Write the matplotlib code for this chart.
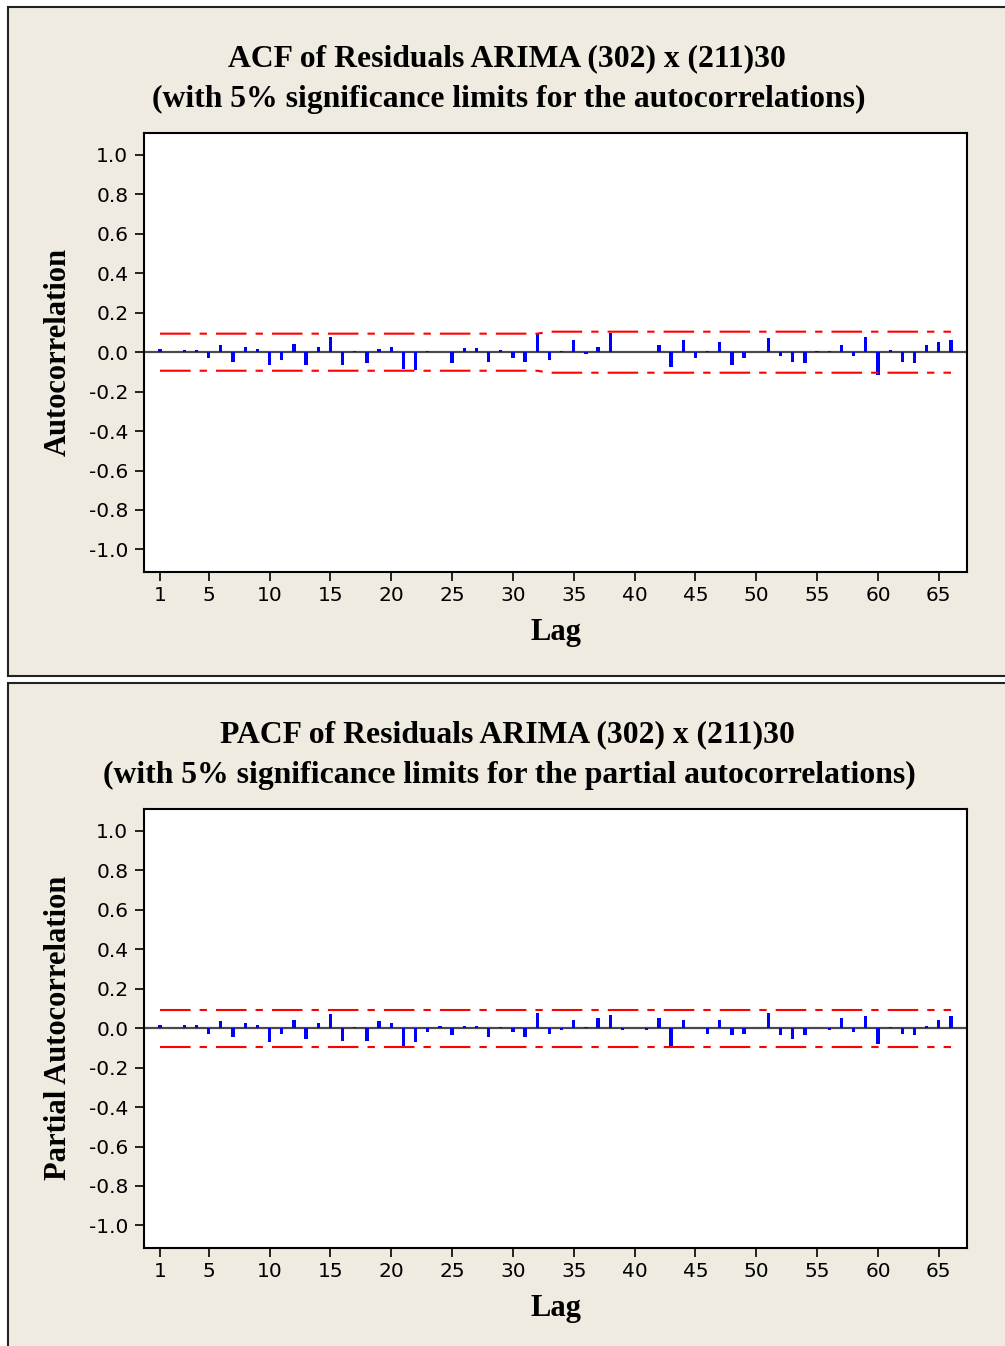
import numpy as np
import matplotlib
matplotlib.use("Agg")
import matplotlib.pyplot as plt
from matplotlib.patches import Rectangle

plt.rcParams['lines.scale_dashes'] = False

lags = np.arange(1, 67)

# residual autocorrelations
acf_vals = [0.015, 0.0, 0.013, 0.013, -0.029, 0.034, -0.048, 0.024, 0.015, -0.065,
            -0.039, 0.043, -0.066, 0.024, 0.078, -0.065, 0.008, -0.056, 0.015, 0.024,
            -0.087, -0.09, 0.005, 0.0, -0.056, 0.022, 0.022, -0.048, 0.013, -0.031,
            -0.048, 0.095, -0.039, 0.007, 0.06, -0.01, 0.024, 0.095, 0.0, 0.0,
            0.0, 0.034, -0.075, 0.06, -0.031, 0.007, 0.051, -0.065, -0.031, 0.0,
            0.07, -0.02, -0.048, -0.056, 0.007, 0.007, 0.034, -0.02, 0.078, -0.117,
            0.013, -0.048, -0.056, 0.034, 0.051, 0.06]
acf_limit = [0.094] * 32 + [0.104] * 34

pacf_vals = [0.014, 0.0, 0.014, 0.014, -0.027, 0.034, -0.044, 0.024, 0.015, -0.071,
             -0.027, 0.042, -0.054, 0.024, 0.07, -0.063, 0.008, -0.063, 0.034, 0.024,
             -0.097, -0.071, -0.019, 0.01, -0.036, 0.01, 0.01, -0.044, 0.006, -0.019,
             -0.044, 0.078, -0.027, -0.01, 0.042, 0.006, 0.051, 0.068, -0.01, 0.0,
             -0.01, 0.051, -0.088, 0.042, 0.0, -0.027, 0.042, -0.036, -0.027, 0.0,
             0.078, -0.036, -0.054, -0.036, 0.0, -0.01, 0.051, -0.019, 0.06, -0.082,
             0.006, -0.027, -0.036, 0.01, 0.042, 0.06]
pacf_limit = [0.094] * 66

xticks = [1, 5, 10, 15, 20, 25, 30, 35, 40, 45, 50, 55, 60, 65]
yticks = [-1.0, -0.8, -0.6, -0.4, -0.2, 0.0, 0.2, 0.4, 0.6, 0.8, 1.0]
ytick_labels = ['-1.0', '-0.8', '-0.6', '-0.4', '-0.2', '0.0', '0.2', '0.4', '0.6', '0.8', '1.0']

W, H = 1005, 1346
fig = plt.figure(figsize=(W / 100, H / 100), dpi=100)
fig.patch.set_facecolor('white')

bg = '#EFEBE1'
# panel frames
fig.patches.append(Rectangle((8 / W, 1 - 676 / H), 1.1, (676 - 7) / H,
                             transform=fig.transFigure, facecolor=bg,
                             edgecolor='#222222', linewidth=1.5, zorder=-5))
fig.patches.append(Rectangle((8 / W, -0.05), 1.1, 1 - 683 / H + 0.05,
                             transform=fig.transFigure, facecolor=bg,
                             edgecolor='#222222', linewidth=1.5, zorder=-5))

serif = 'Liberation Serif'


def draw_panel(top_px, vals, limit, title1, title2, ylabel):
    ax_top = top_px
    ax_bot = top_px + 439
    ax = fig.add_axes([144.3 / W, 1 - ax_bot / H, (966.7 - 144.3) / W, 439 / H])
    ax.set_zorder(2)
    ax.set_facecolor('white')
    ax.axhline(0, color='#4a4a4a', linewidth=1.6, zorder=2)
    ax.bar(lags, vals, width=0.27, color='#0000FF', zorder=3)
    for sign in (1, -1):
        ln, = ax.plot(lags, sign * np.array(limit), color='#FF0000', linewidth=1.5, zorder=4)
        ln.set_dashes([22, 6.5, 5.3, 6.5])
    ax.set_xlim(-0.29, 67.29)
    ax.set_ylim(-1.113, 1.113)
    ax.set_xticks(xticks)
    ax.set_yticks(yticks)
    ax.set_yticklabels(ytick_labels)
    ax.tick_params(axis='both', direction='out', length=6.5, width=1.2,
                   labelsize=14.5, colors='black')
    ax.tick_params(axis='x', pad=3.5)
    ax.tick_params(axis='y', pad=5)
    for s in ax.spines.values():
        s.set_linewidth(1.5)
        s.set_color('black')
    ax.set_xlabel('Lag', fontfamily=serif, fontweight='bold', fontsize=22, labelpad=10)
    ax.set_ylabel(ylabel, fontfamily=serif, fontweight='bold', fontsize=22, labelpad=11.5)
    fig.text(507 / W, 1 - (ax_top - 74) / H, title1, ha='center', va='center',
             fontfamily=serif, fontweight='bold', fontsize=22.8)
    fig.text(509 / W, 1 - (ax_top - 33) / H, title2, ha='center', va='center',
             fontfamily=serif, fontweight='bold', fontsize=22.8)
    return ax


draw_panel(132.7, acf_vals, acf_limit,
           'ACF of Residuals ARIMA (302) x (211)30',
           '(with 5% significance limits for the autocorrelations)',
           'Autocorrelation')
draw_panel(808.7, pacf_vals, pacf_limit,
           'PACF of Residuals ARIMA (302) x (211)30',
           '(with 5% significance limits for the partial autocorrelations)',
           'Partial Autocorrelation')

fig.savefig('out.png', dpi=100, facecolor=fig.get_facecolor())
